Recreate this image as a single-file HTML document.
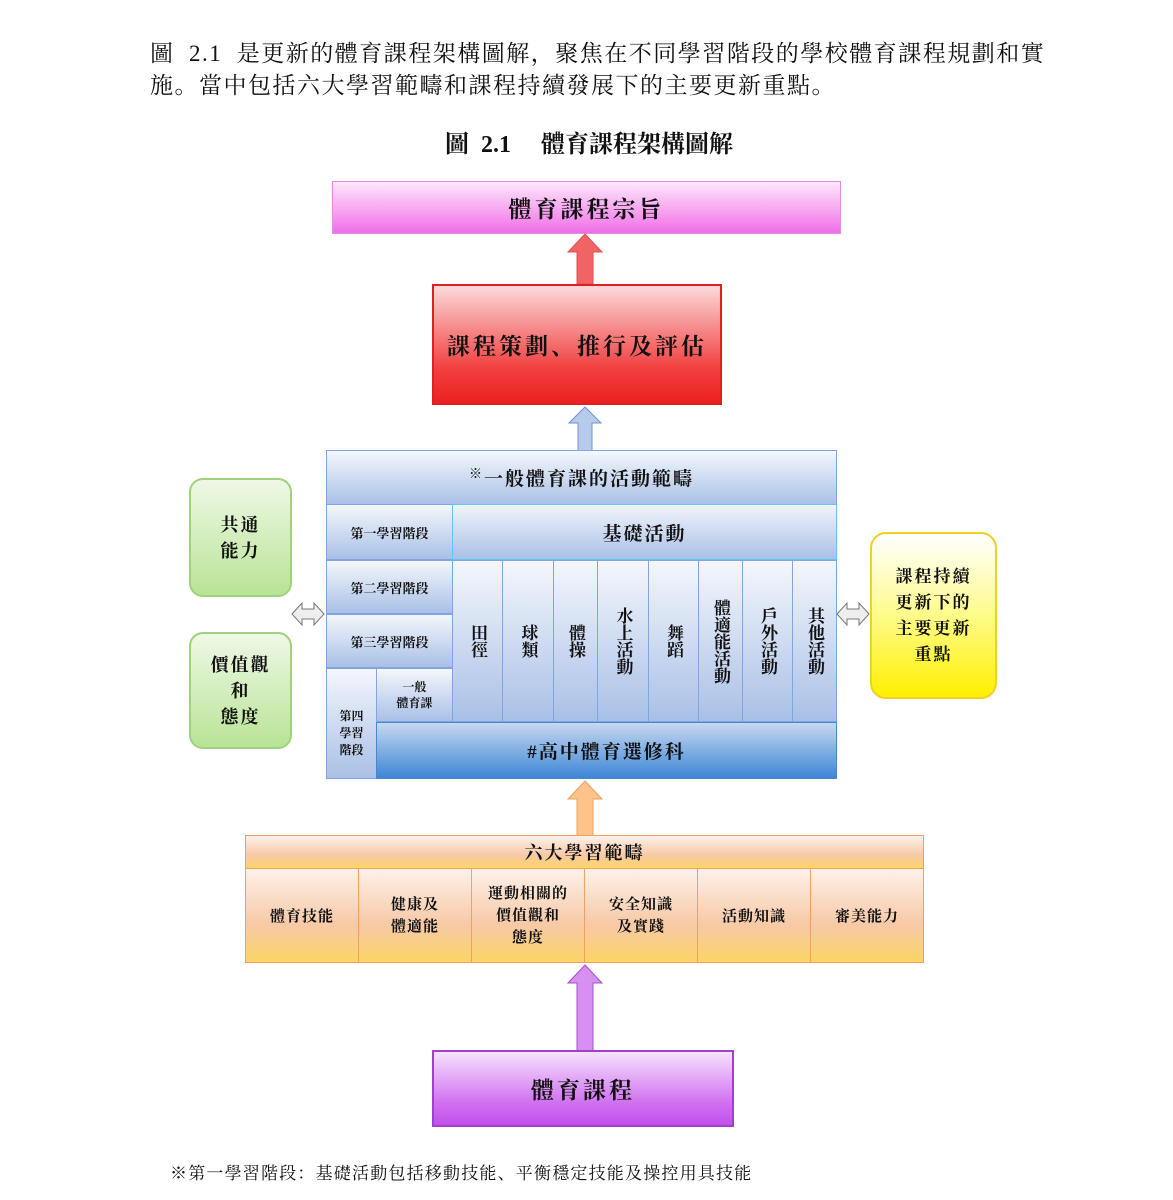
<!DOCTYPE html>
<html><head><meta charset="utf-8"><style>
body{margin:0;width:1173px;height:1200px;background:#fff;position:relative;overflow:hidden;font-family:"Liberation Serif","Noto Serif CJK SC","Noto Sans CJK TC",serif;color:#111}
.a{position:absolute;box-sizing:border-box}
.c{display:flex;align-items:center;justify-content:center;text-align:center;font-weight:bold}
.p{font-size:23px;left:150px;white-space:nowrap;letter-spacing:1.5px}
.bl{background:linear-gradient(#f4f7fc,#a9c0e6);border:1px solid #7fa6e0}
.v{writing-mode:vertical-rl;text-orientation:upright;font-size:17px;letter-spacing:0px}
.or{background:linear-gradient(#fdf1ea,#f7c9a6 60%,#fcd466);border:1px solid #f2a060}
</style></head><body>
<div class="a p" style="top:35px">圖&nbsp;&nbsp;2.1&nbsp;&nbsp;是更新的體育課程架構圖解，聚焦在不同學習階段的學校體育課程規劃和實</div>
<div class="a p" style="top:67px">施。當中包括六大學習範疇和課程持續發展下的主要更新重點。</div>
<div class="a" style="left:445px;top:124px;font-size:24px;font-weight:bold;white-space:nowrap">圖&nbsp;&nbsp;2.1&nbsp;&nbsp;&nbsp;&nbsp;&nbsp;體育課程架構圖解</div>

<div class="a c" style="left:332px;top:181px;width:509px;height:53px;background:linear-gradient(#fde8fb,#f06ee8);border:1px solid #e58be0;font-size:23px;letter-spacing:3px">體育課程宗旨</div>
<svg class="a" style="left:565px;top:232px" width="40" height="54"><path d="M20 2 L37 20 L28 20 L28 52 L12 52 L12 20 L3 20 Z" fill="#f06464" stroke="#e05050"/></svg>
<div class="a c" style="left:432px;top:284px;width:290px;height:121px;background:linear-gradient(#fbdada,#f14040 70%,#ec2020);border:2px solid #e02020;font-size:23px;letter-spacing:3px">課程策劃、推行及評估</div>
<svg class="a" style="left:567px;top:405px" width="36" height="46"><path d="M18 2 L34 18 L25 18 L25 46 L11 46 L11 18 L2 18 Z" fill="#b7cbea" stroke="#6f93cf"/></svg>

<div class="a c bl" style="left:326px;top:450px;width:511px;height:55px;font-size:19px;letter-spacing:2px"><span style="font-size:13px;vertical-align:top;margin-top:-10px">※</span>一般體育課的活動範疇</div>
<div class="a c bl" style="left:326px;top:504px;width:127px;height:56px;font-size:13px">第一學習階段</div>
<div class="a c bl" style="left:452px;top:504px;width:385px;height:56px;font-size:19px;letter-spacing:2px;background:linear-gradient(#f0f4fb,#a9c0e6);border-color:#5fc8f0">基礎活動</div>
<div class="a c bl" style="left:326px;top:560px;width:127px;height:54px;font-size:13px">第二學習階段</div>
<div class="a c bl" style="left:326px;top:614px;width:127px;height:54px;font-size:13px">第三學習階段</div>
<div class="a c bl" style="left:326px;top:668px;width:51px;height:111px;font-size:12px;line-height:17px;padding-top:20px">第四<br>學習<br>階段</div>
<div class="a c bl" style="left:376px;top:668px;width:77px;height:54px;font-size:12px;line-height:16px">一般<br>體育課</div>
<div class="a c bl v" style="left:452px;top:560px;width:51px;height:162px">田徑</div>
<div class="a c bl v" style="left:502px;top:560px;width:52px;height:162px">球類</div>
<div class="a c bl v" style="left:553px;top:560px;width:45px;height:162px">體操</div>
<div class="a c bl v" style="left:597px;top:560px;width:52px;height:162px">水上活動</div>
<div class="a c bl v" style="left:648px;top:560px;width:51px;height:162px">舞蹈</div>
<div class="a c bl v" style="left:698px;top:560px;width:45px;height:162px">體適能活動</div>
<div class="a c bl v" style="left:742px;top:560px;width:51px;height:162px">戶外活動</div>
<div class="a c bl v" style="left:792px;top:560px;width:45px;height:162px">其他活動</div>
<div class="a c" style="left:376px;top:722px;width:461px;height:57px;background:linear-gradient(#c6d8f0,#3d86d6);border:1px solid #4a86d0;font-size:19px;letter-spacing:2px">#高中體育選修科</div>

<div class="a c" style="left:189px;top:478px;width:103px;height:119px;border-radius:14px;background:linear-gradient(#eff8e6,#b8e496);border:2px solid #9fd27a;font-size:18px;line-height:26px;letter-spacing:2px">共通<br>能力</div>
<div class="a c" style="left:189px;top:632px;width:103px;height:117px;border-radius:14px;background:linear-gradient(#eff8e6,#b8e496);border:2px solid #9fd27a;font-size:18px;line-height:26px;letter-spacing:2px">價值觀<br>和<br>態度</div>
<svg class="a" style="left:290px;top:600px" width="36" height="28"><path d="M2 14 L12 3 L12 9 L24 9 L24 3 L34 14 L24 25 L24 19 L12 19 L12 25 Z" fill="#eee" stroke="#777"/></svg>
<svg class="a" style="left:835px;top:600px" width="36" height="28"><path d="M2 14 L12 3 L12 9 L24 9 L24 3 L34 14 L24 25 L24 19 L12 19 L12 25 Z" fill="#eee" stroke="#777"/></svg>
<div class="a c" style="left:870px;top:532px;width:127px;height:167px;border-radius:16px;background:linear-gradient(#fff,#fefb8a 50%,#fef000);border:2px solid #f2d020;font-size:17px;line-height:26px;letter-spacing:2px">課程持續<br>更新下的<br>主要更新<br>重點</div>

<svg class="a" style="left:565px;top:779px" width="40" height="58"><path d="M20 2 L37 20 L28 20 L28 58 L12 58 L12 20 L3 20 Z" fill="#fcc48a" stroke="#f2a060"/></svg>
<div class="a c or" style="left:245px;top:835px;width:679px;height:34px;font-size:18px;letter-spacing:2px">六大學習範疇</div>
<div class="a c or" style="left:245px;top:868px;width:114px;height:95px;font-size:15px;letter-spacing:1px">體育技能</div>
<div class="a c or" style="left:358px;top:868px;width:114px;height:95px;font-size:15px;line-height:22px;letter-spacing:1px">健康及<br>體適能</div>
<div class="a c or" style="left:471px;top:868px;width:114px;height:95px;font-size:15px;line-height:22px;letter-spacing:1px">運動相關的<br>價值觀和<br>態度</div>
<div class="a c or" style="left:584px;top:868px;width:114px;height:95px;font-size:15px;line-height:22px;letter-spacing:1px">安全知識<br>及實踐</div>
<div class="a c or" style="left:697px;top:868px;width:114px;height:95px;font-size:15px;letter-spacing:1px">活動知識</div>
<div class="a c or" style="left:810px;top:868px;width:114px;height:95px;font-size:15px;letter-spacing:1px">審美能力</div>

<svg class="a" style="left:565px;top:963px" width="40" height="88"><path d="M20 2 L37 20 L28 20 L28 88 L12 88 L12 20 L3 20 Z" fill="#d890f0" stroke="#a050d0"/></svg>
<div class="a c" style="left:432px;top:1050px;width:302px;height:77px;background:linear-gradient(#f6e2fc,#d070f0 70%,#c050ea);border:2px solid #a040d0;font-size:23px;letter-spacing:3px">體育課程</div>
<div class="a" style="left:170px;top:1159px;font-size:17px;white-space:nowrap;letter-spacing:1.2px">※第一學習階段：基礎活動包括移動技能、平衡穩定技能及操控用具技能</div>
</body></html>
